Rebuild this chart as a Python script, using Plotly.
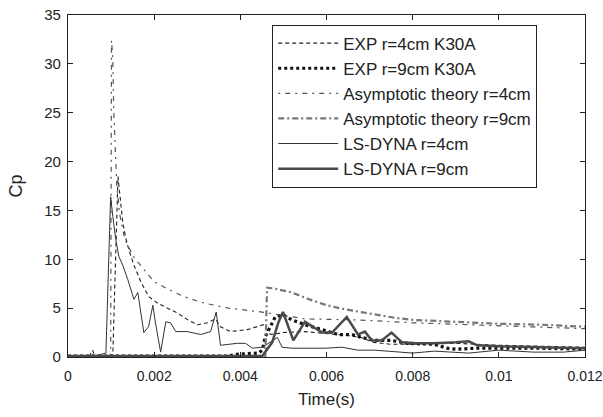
import plotly.graph_objects as go

# ---------------- data ----------------
exp4_t = [0, 0.0005, 0.00057, 0.00062, 0.0007, 0.00104, 0.00116, 0.00123, 0.00127, 0.00134,
          0.00141, 0.00153, 0.00169, 0.00187, 0.00208, 0.00231, 0.00254, 0.00278, 0.00301, 0.00324,
          0.00342, 0.00354, 0.00377, 0.00416, 0.00442, 0.00453, 0.0047, 0.005, 0.0055, 0.006,
          0.0065, 0.0068, 0.0071, 0.0075, 0.008, 0.009, 0.01, 0.011, 0.012]
exp4_cp = [0.1, 0.1, 0.7, 0.1, 0.1, 0.2, 18.5, 15.8, 13.8, 12.2,
           11.0, 9.4, 7.7, 6.2, 5.5, 5.0, 4.5, 3.8, 3.3, 3.5,
           3.9, 3.1, 2.6, 2.8, 3.1, 3.3, 2.3, 2.5, 2.6, 2.4,
           2.2, 2.0, 1.5, 1.3, 1.3, 1.4, 1.2, 1.1, 1.0]

exp9_t = [0, 0.002, 0.0037, 0.00395, 0.00442, 0.00451, 0.00458, 0.00481, 0.00499, 0.0052,
          0.0055, 0.0059, 0.00627, 0.00659, 0.00682, 0.00712, 0.00751, 0.00788, 0.0085, 0.0088,
          0.009, 0.0095, 0.01, 0.011, 0.012]
exp9_cp = [0.1, 0.1, 0.1, 0.3, 0.4, 0.7, 2.1, 4.1, 4.3, 3.8,
           3.3, 2.8, 2.3, 2.3, 2.0, 1.7, 1.7, 1.4, 1.3, 0.9,
           0.8, 0.9, 0.9, 0.9, 0.8]

asy4_t = [0, 0.00099, 0.00101, 0.00104, 0.00106, 0.00109, 0.00113, 0.0012, 0.00132, 0.00153,
          0.002, 0.00234, 0.00268, 0.00308, 0.00342, 0.00372, 0.00412, 0.0045, 0.0055, 0.0067,
          0.008, 0.01, 0.012]
asy4_cp = [0, 0, 32.4, 30.5, 25.4, 21.3, 17.7, 14.6, 12.0, 10.2,
           7.7, 6.9, 6.2, 5.6, 5.3, 5.0, 4.8, 4.6, 3.9, 3.8,
           3.5, 3.2, 2.9]

asy9_t = [0, 0.00458, 0.00462, 0.0048, 0.0052, 0.0056, 0.006, 0.0064, 0.0068, 0.0072,
          0.0076, 0.008, 0.009, 0.01, 0.011, 0.012]
asy9_cp = [0, 0, 7.1, 7.0, 6.6, 5.9, 5.3, 4.9, 4.6, 4.3,
           4.0, 3.8, 3.6, 3.4, 3.3, 3.1]

ls4_t = [0, 0.0006, 0.00088, 0.00099, 0.00104, 0.00111, 0.00118, 0.00127, 0.00139, 0.00146,
         0.00153, 0.00162, 0.00176, 0.00187, 0.00197, 0.00203, 0.00215, 0.00227, 0.00238, 0.0025,
         0.00277, 0.00308, 0.00331, 0.00344, 0.00354, 0.00393, 0.00412, 0.00428, 0.00451, 0.00486,
         0.00497, 0.0052, 0.00597, 0.00636, 0.00673, 0.00712, 0.008, 0.0085, 0.0089, 0.0093,
         0.01, 0.0108, 0.0115, 0.012]
ls4_cp = [0.1, 0.1, 0.4, 16.4, 14.4, 12.0, 10.3, 9.4, 7.9, 6.9,
          5.9, 6.6, 2.5, 3.1, 5.3, 3.5, 0.5, 3.6, 3.5, 2.6,
          2.6, 2.3, 2.6, 4.6, 1.2, 1.4, 1.4, 0.9, 1.0, 2.0,
          1.0, 0.9, 0.9, 1.0, 0.7, 0.7, 0.4, 0.6, 0.5, 0.4,
          0.7, 0.5, 0.5, 0.7]

ls9_t = [0, 0.002, 0.0044, 0.00451, 0.00474, 0.00488, 0.00499, 0.00523, 0.0055, 0.0059,
         0.00613, 0.00647, 0.00673, 0.00689, 0.00705, 0.00728, 0.00751, 0.00775, 0.00805, 0.0085,
         0.009, 0.0093, 0.0095, 0.01, 0.011, 0.012]
ls9_cp = [0.1, 0.1, 0.1, 0.1, 1.5, 3.5, 4.6, 1.7, 3.6, 2.5,
          2.5, 4.1, 2.3, 2.6, 1.7, 1.7, 2.5, 1.5, 1.4, 1.4,
          1.5, 1.6, 1.2, 1.1, 1.0, 0.9]

x_ticks = [0, 0.002, 0.004, 0.006, 0.008, 0.01, 0.012]
x_ticktext = ["0", "0.002", "0.004", "0.006", "0.008", "0.01", "0.012"]
y_ticks = [0, 5, 10, 15, 20, 25, 30, 35]

names = ["EXP r=4cm K30A", "EXP r=9cm K30A", "Asymptotic theory r=4cm",
         "Asymptotic theory r=9cm", "LS-DYNA r=4cm", "LS-DYNA r=9cm"]

# ---------------- figure ----------------
fig = go.Figure()
fig.add_trace(go.Scatter(x=exp4_t, y=exp4_cp, mode="lines", name=names[0],
                         line=dict(color="#222222", width=1.1, dash="4px,3px")))
fig.add_trace(go.Scatter(x=exp9_t, y=exp9_cp, mode="lines", name=names[1],
                         line=dict(color="#111111", width=3.2, dash="3px,3px")))
fig.add_trace(go.Scatter(x=asy4_t, y=asy4_cp, mode="lines", name=names[2],
                         line=dict(color="#555555", width=1.2, dash="2px,5px,5px,5px")))
fig.add_trace(go.Scatter(x=asy9_t, y=asy9_cp, mode="lines", name=names[3],
                         line=dict(color="#777777", width=2.2, dash="6px,3px,2px,3px")))
fig.add_trace(go.Scatter(x=ls4_t, y=ls4_cp, mode="lines", name=names[4],
                         line=dict(color="#333333", width=1)))
fig.add_trace(go.Scatter(x=ls9_t, y=ls9_cp, mode="lines", name=names[5],
                         line=dict(color="#4a4a4a", width=2.5)))

font_family = "Liberation Sans, Arial, sans-serif"
fig.update_layout(
    width=603, height=417,
    margin=dict(l=68, r=18, t=15, b=60, autoexpand=False),
    paper_bgcolor="white", plot_bgcolor="white",
    font=dict(family=font_family, size=15, color="#222222"),
    showlegend=True,
    legend=dict(x=0.395, y=0.972, xanchor="left", yanchor="top",
                bgcolor="white", bordercolor="#222222", borderwidth=1,
                font=dict(size=17, color="#222222"), itemwidth=60,
                tracegroupgap=0),
    xaxis=dict(range=[0, 0.012], tickvals=x_ticks, ticktext=x_ticktext,
               tickfont=dict(size=14),
               showgrid=False, zeroline=False, showline=True, linecolor="#222222",
               linewidth=1.3, mirror="ticks", ticks="inside", ticklen=5,
               tickcolor="#222222", ticklabelstandoff=6, ticklabeloverflow="allow",
               automargin=False,
               title=dict(text="Time(s)", font=dict(size=17), standoff=10)),
    yaxis=dict(range=[0, 35], tickvals=y_ticks,
               showgrid=False, zeroline=False, showline=True, linecolor="#222222",
               linewidth=1.3, mirror="ticks", ticks="inside", ticklen=5,
               tickcolor="#222222", ticklabelstandoff=3, automargin=False,
               title=dict(text="Cp", font=dict(size=18), standoff=16)),
)

fig.write_html("out.html")
